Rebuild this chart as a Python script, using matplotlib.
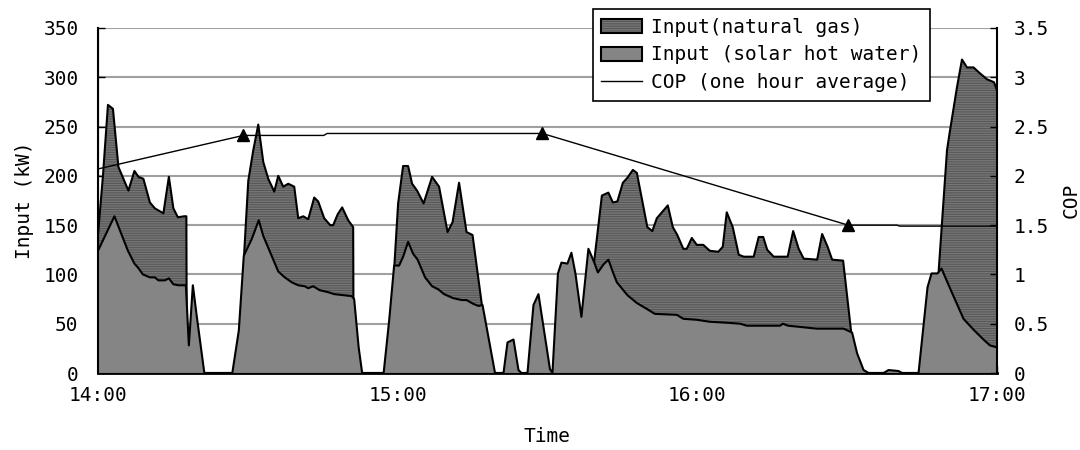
import matplotlib
matplotlib.use("Agg")
import matplotlib.pyplot as plt
from matplotlib.patches import Patch
from matplotlib.lines import Line2D

plt.rcParams['font.family'] = ['DejaVu Sans Mono']
plt.rcParams['font.size'] = 14
plt.rcParams['hatch.linewidth'] = 1.0

# minutes after 14:00
solar_t = [0, 3.3, 6, 7.3, 8, 9, 10.4, 11.4, 12.1, 13.4, 14.2, 15.1, 16.1, 17.6, 18.2, 19.0, 19.8, 21.3,
           26.9, 28.2, 29.2, 30.8, 32.2, 33.1, 34.6, 36.1, 37.4, 38.8, 40.1, 41.4, 42.1, 43.1, 44.4, 46.1,
           47.3, 49.1, 50.8, 51.3, 52.2, 52.9, 57.2, 58.3, 59.3, 60.3, 61.1, 62.1, 63.1, 64.0, 65.5, 66.9,
           68.1, 69.3, 71.1, 72.8, 73.8, 75.2, 76.2, 77.0, 79.5, 81.2, 82.0, 83.2, 84.2, 84.8, 86.0, 87.2,
           88.2, 89.2, 90.5, 91.0, 92.1, 92.8, 94.0, 94.8, 95.6, 96.8, 98.2, 99.3, 100.1, 101.2, 102.2,
           103.2, 103.9, 106.0, 107.9, 109.9, 111.5, 115.9, 117.2, 119.9, 122.5, 125.9, 128.6, 129.9,
           136.6, 137.1, 138.2, 143.9, 149.3, 151.0, 152.0, 153.3, 154.3, 157.3, 158.3, 160.3, 161.0,
           164.3, 166.1, 166.9, 168.1, 168.9, 170.6, 173.3, 175.3, 177.3, 178.6, 180]
solar_kw = [124, 159, 124, 111, 107, 100, 97, 97, 94, 94, 96, 90, 89, 89, 28, 89, 57, 0,
            0, 43, 119, 136, 155, 139, 121, 103, 97, 92, 89, 88, 86, 88, 84, 82,
            80, 79, 78, 75, 26, 0, 0, 53, 109, 109, 118, 133, 121, 115, 97, 88,
            85, 80, 76, 74, 74, 70, 68, 69, 0, 0, 31, 34, 3, 0, 0, 69,
            80, 47, 4, 0, 101, 112, 111, 122, 101, 57, 126, 113, 102, 110, 115,
            101, 92, 79, 71, 65, 60, 59, 55, 54, 52, 51, 50, 48,
            48, 50, 48, 45, 45, 41, 20, 3, 0, 0, 3, 2, 0,
            0, 87, 101, 101, 106, 86, 55, 44, 34, 28, 26]

# solar + natural gas (top of stacked area), 0 where there is no gas
total_t = [0, 1, 2, 3, 4.1, 6.1, 7.3, 8.1, 9.1, 10.4, 11.4, 13.1, 14.2, 15.1, 16.0, 17.3, 17.7, 17.8,
           29.2, 29.25, 30.1, 31.1, 32.1, 33.1, 34.1, 35.3, 36.1, 37.1, 38.1, 39.3, 40.1, 41.1, 42.1,
           43.3, 44.1, 45.3, 46.5, 47.1, 48.0, 48.9, 50.1, 51.1, 51.2,
           59.3, 59.35, 60.1, 61.1, 62.1, 62.9, 63.9, 65.2, 66.9, 68.3, 70.0, 71.0, 72.3, 73.8, 75.0,
           76.9, 77.0,
           99.3, 99.35, 100.9, 102.2, 103.1, 104.0, 105.1, 106.0, 107.1, 107.9, 110.0, 111.0, 111.9,
           114.1, 115.1, 116.0, 117.2, 117.9, 118.9, 119.9, 121.2, 122.5, 124.2, 125.1, 125.9, 127.1,
           128.3, 129.3, 131.3, 132.3, 133.2, 134.0, 135.3, 138.1, 139.2, 140.3, 141.3, 144.0, 145.0,
           146.1, 147.0, 149.2, 150.8, 150.9,
           168.3, 168.35, 170.0, 170.6, 172.0, 173.0, 174.0, 175.3, 176.6, 178.0, 179.4, 180]
total_kw = [140, 200, 272, 268, 209, 185, 205, 199, 197, 173, 167, 162, 199, 167, 158, 159, 159, 0,
            0, 119, 195, 226, 252, 214, 197, 184, 200, 189, 192, 189, 157, 159, 156,
            178, 174, 157, 150, 150, 161, 168, 155, 148, 0,
            0, 109, 172, 210, 210, 192, 185, 172, 199, 189, 143, 153, 193, 143, 140,
            68, 0,
            0, 113, 180, 183, 173, 174, 193, 198, 206, 203, 148, 144, 157,
            170, 148, 140, 126, 126, 137, 130, 130, 124, 123, 128, 163, 148,
            120, 118, 118, 138, 138, 125, 118, 118, 144, 126, 116, 115, 141,
            128, 115, 114, 42, 0,
            0, 105, 226, 246, 290, 318, 310, 310, 304, 298, 295, 287]

cop_t = [0, 29.1, 45.2, 45.9, 89.0, 150.2, 160.0, 160.5, 180]
cop = [2.07, 2.41, 2.41, 2.43, 2.43, 1.50, 1.50, 1.49, 1.49]
cop_mark_t = [29.1, 89.0, 150.2]
cop_mark = [2.41, 2.43, 1.50]

hour_ticks = [0, 60, 120, 180]
hour_labels = ['14:00', '15:00', '16:00', '17:00']
kw_ticks = [0, 50, 100, 150, 200, 250, 300, 350]
cop_ticks = [0, 0.5, 1, 1.5, 2, 2.5, 3, 3.5]
cop_labels = ['0', '0.5', '1', '1.5', '2', '2.5', '3', '3.5']

gas_face = '#555555'
gas_hatch = '#767676'
solar_face = '#858585'

fig = plt.figure(figsize=(10.8, 4.5), dpi=100)
ax = fig.add_axes([0.0907, 0.1711, 0.8324, 0.7667])

ax.fill_between(total_t, total_kw, facecolor=gas_face, edgecolor=gas_hatch, hatch='-------',
                linewidth=0, zorder=2)
ax.plot(total_t, total_kw, color='k', lw=1.5, zorder=2.5)
ax.fill_between(solar_t, solar_kw, facecolor=solar_face, linewidth=0, zorder=3)
ax.plot(solar_t, solar_kw, color='k', lw=1.5, zorder=4)

ax.set_xlim(0, 180)
ax.set_ylim(0, 350)
ax.set_xticks(hour_ticks)
ax.set_xticklabels(hour_labels)
ax.set_yticks(kw_ticks)
ax.yaxis.grid(True, color='#a0a0a0', lw=1.5)
ax.set_axisbelow(True)
ax.tick_params(axis='x', direction='in', length=5, width=1, pad=9)
ax.tick_params(axis='y', direction='in', length=5, width=1, pad=14)
ax.set_xlabel('Time', labelpad=16)
ax.set_ylabel('Input (kW)', labelpad=7)
for s in ['top', 'right']:
    ax.spines[s].set_visible(False)
ax.spines['left'].set_linewidth(1.5)
ax.spines['bottom'].set_linewidth(2)

ax2 = ax.twinx()
ax2.plot(cop_t, cop, color='k', lw=1)
ax2.plot(cop_mark_t, cop_mark, ls='none', marker='^', color='k', ms=8)
ax2.set_ylim(0, 3.5)
ax2.set_yticks(cop_ticks)
ax2.set_yticklabels(cop_labels)
ax2.tick_params(direction='in', length=5, width=1, pad=12)
ax2.set_ylabel('COP', labelpad=9)
ax2.spines['top'].set_visible(False)
ax2.spines['right'].set_linewidth(1.5)

gas_handle = (Patch(facecolor=gas_face, edgecolor=gas_hatch, hatch='-------', linewidth=0),
              Patch(fill=False, edgecolor='k', linewidth=1.5))
solar_handle = Patch(facecolor=solar_face, edgecolor='k', linewidth=1.5)
cop_handle = Line2D([], [], color='k', lw=1)
leg = fig.legend([gas_handle, solar_handle, cop_handle],
                 ['Input(natural gas)', 'Input (solar hot water)', 'COP (one hour average)'],
                 loc='upper right', bbox_to_anchor=(930 / 1080, 1 - 9 / 450),
                 borderaxespad=0, fancybox=False, framealpha=1, edgecolor='k',
                 handlelength=2.1, handletextpad=0.45, labelspacing=0.45, borderpad=0.45)
leg.get_frame().set_linewidth(1.2)

fig.savefig('out.png', dpi=100)
